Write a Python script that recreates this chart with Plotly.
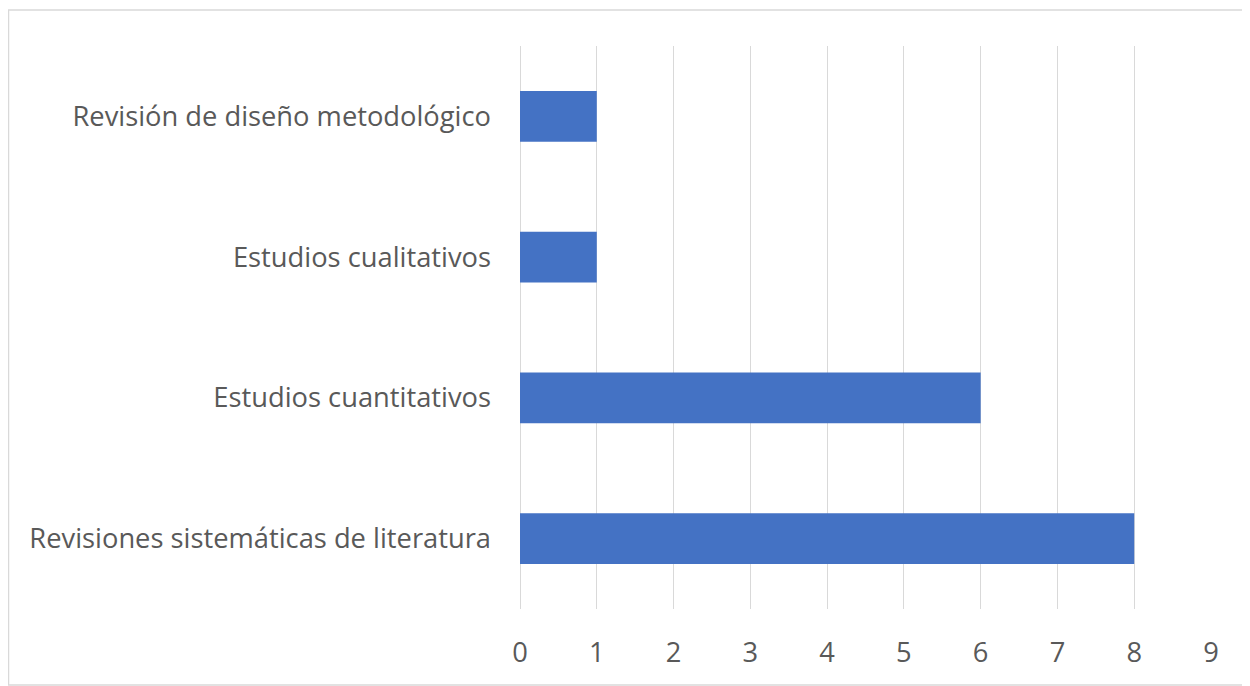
import plotly.graph_objects as go

categories = [
    "Revisiones sistemáticas de literatura",
    "Estudios cuantitativos",
    "Estudios cualitativos",
    "Revisión de diseño metodológico",
]
values = [8, 6, 1, 1]
x_ticks = [0, 1, 2, 3, 4, 5, 6, 7, 8, 9]

# page has an 8px body margin, so the figure is drawn from (8, 8)
W, H = 1242, 678
L, R, T, B = 512, 1203, 38, 601

fig = go.Figure(go.Bar(
    y=categories, x=values, orientation="h",
    marker=dict(color="#4472C4", line=dict(width=0)),
    width=0.36,
))

fnt = dict(family="Open Sans, DejaVu Sans, sans-serif", size=27.3, color="#595959")

fig.update_layout(
    width=W, height=H,
    margin=dict(l=L, r=W - R, t=T, b=H - B, pad=0),
    paper_bgcolor="white", plot_bgcolor="white",
    showlegend=False,
    font=fnt,
    xaxis=dict(
        range=[0, 9], tickvals=x_ticks, ticktext=[str(v) for v in x_ticks],
        showgrid=True, gridcolor="#d9d9d9", gridwidth=1,
        zeroline=True, zerolinecolor="#d9d9d9", zerolinewidth=1,
        showline=False, ticks="", tickfont=fnt, ticklabelstandoff=25,
        fixedrange=True,
    ),
    yaxis=dict(
        categoryorder="array", categoryarray=categories,
        showgrid=False, zeroline=False, showline=False, ticks="",
        tickfont=fnt, ticklabelstandoff=28, fixedrange=True,
    ),
    shapes=[dict(
        type="rect", xref="paper", yref="paper",
        x0=(0.5 - L) / (R - L), x1=(1250 - L) / (R - L),
        y0=(B - 677) / (B - T), y1=(B - 2) / (B - T),
        line=dict(color="#d9d9d9", width=1.5), fillcolor="rgba(0,0,0,0)",
        layer="below",
    )],
)

fig.write_html("out.html")
